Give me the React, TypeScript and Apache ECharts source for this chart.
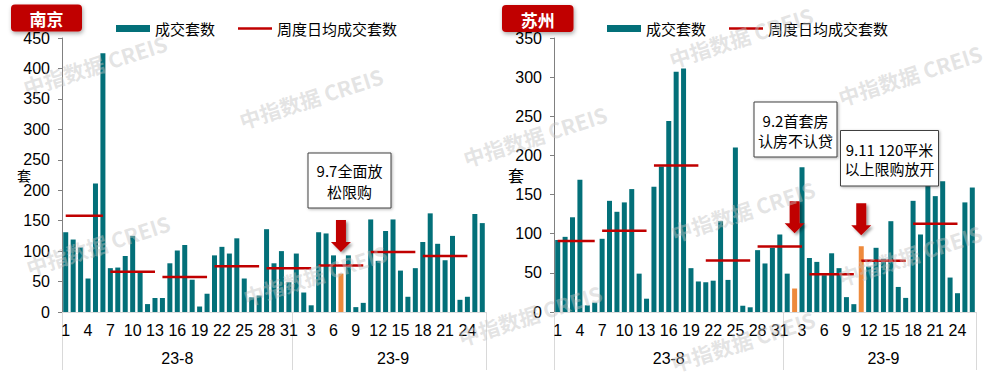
import React, { useEffect, useRef } from 'react';
import * as echarts from 'echarts';

// ---------- data ----------
const augDays = ['1','2','3','4','5','6','7','8','9','10','11','12','13','14','15','16','17','18','19','20','21','22','23','24','25','26','27','28','29','30','31'];
const sepDays = ['1','2','3','4','5','6','7','8','9','10','11','12','13','14','15','16','17','18','19','20','21','22','23','24','25','26'];
const monthLabels = ['23-8', '23-9'];

const njAug = [131,119,106,55,211,425,72,73,92,125,65,13,23,23,80,101,110,53,9,30,93,107,96,121,55,24,27,136,80,100,49];
const njSep = [96,32,11,131,129,93,63,93,8,15,152,84,133,152,68,25,72,115,162,112,85,125,20,25,161,146];
const szAug = [92,96,121,169,8.5,12,93.5,142,128,140,157,49,17,160,186,244,307,311,56,39,38,40,116,41,210,8,6,79,62,82,99];
const szSep = [49,30,185,69,64,47,75,56,19,10,84,58,82,68,116,32,18,142,99,161.5,148,167,44,24,140,159];

const weekStart = [0, 6, 13, 20, 27, 34, 41, 48];
const weekEnd = [5, 12, 19, 26, 33, 40, 47, 54];
const njWeekAvg = [158, 66, 57.5, 75, 72, 76.5, 98.5, 92];
const szWeekAvg = [90.6, 103.8, 187, 65.8, 83.8, 48.3, 65.4, 112.8];

const njHighlight = [37];
const szHighlight = [32, 41];
const njArrows = [[37, 125]];
const szArrows = [[32, 121], [41, 118.5]];

const njTitle = '南京';
const szTitle = '苏州';
const njNote = ['9.7全面放', '松限购'];
const szNote1 = ['9.2首套房', '认房不认贷'];
const szNote2 = ['9.11 120平米', '以上限购放开'];
const barName = '成交套数';
const lineName = '周度日均成交套数';
const unitName = '套';
const watermark = '中指数据 CREIS';

// ---------- styles ----------
const TEAL = '#037079';
const ORANGE = '#EE8A3C';
const RED = '#C00000';
const NUM_FONT = '"Liberation Sans", Arial, sans-serif';
const CJK_FONT = '"Noto Sans CJK SC", "Noto Sans", sans-serif';
const ARROW = 'path://M5,0 L15,0 L15,22 L20,22 L10,32 L0,22 L5,22 Z';
const LINE_ICON = 'path://M0,0 L36,0 L36,2.5 L0,2.5 Z';

const categories = augDays.concat(sepDays);
const groupSizes = [augDays.length, sepDays.length];

function weekLine(avgs: number[], parity: number) {
  const arr: (number | null)[] = categories.map(() => null);
  avgs.forEach((v, w) => {
    if (w % 2 === parity) {
      for (let i = weekStart[w]; i <= weekEnd[w]; i++) arr[i] = v;
    }
  });
  return arr;
}

function barData(vals: number[], hi: number[]) {
  return vals.map((v, i) => (hi.includes(i) ? { value: v, itemStyle: { color: ORANGE } } : v));
}

function xAxes(g: number) {
  const mid0 = Math.floor(groupSizes[0] / 2);
  const mid1 = groupSizes[0] + Math.floor(groupSizes[1] / 2);
  return [
    {
      type: 'category', gridIndex: g, data: categories, position: 'bottom',
      axisLine: { show: true, lineStyle: { color: '#d9d9d9', width: 1 } },
      axisTick: { show: false },
      axisLabel: { interval: 2, fontSize: 16, color: '#000', margin: 10, fontFamily: NUM_FONT },
    },
    {
      type: 'category', gridIndex: g, data: categories, position: 'bottom',
      axisLine: { show: false },
      axisTick: {
        show: true, length: 58,
        interval: (i: number) => i === 0 || i === groupSizes[0],
        lineStyle: { color: '#d9d9d9', width: 1 },
      },
      axisLabel: {
        interval: (i: number) => i === mid0 || i === mid1,
        formatter: (_v: string, i: number) => (i < groupSizes[0] ? monthLabels[0] : monthLabels[1]),
        fontSize: 16, color: '#000', margin: 38, fontFamily: NUM_FONT,
      },
    },
  ];
}

function yAxis(g: number, max: number, nameSize: number, nameGap: number) {
  return {
    type: 'value', gridIndex: g, min: 0, max, interval: 50,
    name: unitName, nameLocation: 'middle', nameGap, nameRotate: 0, nameMoveOverlap: false,
    nameTextStyle: { fontSize: nameSize, color: '#000', fontFamily: CJK_FONT },
    axisLine: { show: true, lineStyle: { color: '#808080', width: 1 } },
    axisTick: { show: true, length: 4, lineStyle: { color: '#808080' } },
    axisLabel: { fontSize: 16, color: '#000', margin: 12, fontFamily: NUM_FONT },
    splitLine: { show: false },
  };
}

function panelSeries(xIdx: number, yIdx: number, vals: number[], hi: number[], arrows: number[][], weeks: number[]) {
  const lineCommon = {
    type: 'line', name: lineName, xAxisIndex: xIdx, yAxisIndex: yIdx,
    symbol: 'none', connectNulls: false, z: 5,
    lineStyle: { color: RED, width: 2.5 }, itemStyle: { color: RED },
  };
  return [
    {
      type: 'bar', name: barName, xAxisIndex: xIdx, yAxisIndex: yIdx,
      data: barData(vals, hi), barWidth: 5,
      itemStyle: { color: TEAL },
      markPoint: {
        symbol: ARROW, symbolSize: [20, 32], symbolKeepAspect: false,
        label: { show: false },
        itemStyle: { color: RED, shadowBlur: 3, shadowColor: 'rgba(0,0,0,0.4)', shadowOffsetX: 2, shadowOffsetY: 2 },
        data: arrows.map((a) => ({ coord: [a[0], a[1]] })),
      },
    },
    { ...lineCommon, data: weekLine(weeks, 0) },
    { ...lineCommon, data: weekLine(weeks, 1) },
  ];
}

function badge(x: number, y: number, w: number, h: number, text: string) {
  return [
    {
      type: 'rect', shape: { x, y, width: w, height: h, r: 4 },
      style: { fill: RED, shadowBlur: 4, shadowColor: 'rgba(0,0,0,0.35)', shadowOffsetX: 1, shadowOffsetY: 2 },
      z: 100,
    },
    {
      type: 'text', x: x + w / 2, y: y + h / 2 + 0.5, z: 101,
      style: { text, fill: '#fff', font: `bold 17px ${CJK_FONT}`, align: 'center', verticalAlign: 'middle' },
    },
  ];
}

function noteBox(x: number, y: number, w: number, h: number, lines: string[], ly: number[]) {
  const els: any[] = [
    {
      type: 'rect', shape: { x, y, width: w, height: h },
      style: { fill: '#fff', stroke: '#404040', lineWidth: 1, shadowBlur: 3, shadowColor: 'rgba(0,0,0,0.3)', shadowOffsetX: 1, shadowOffsetY: 1 },
      z: 100,
    },
  ];
  lines.forEach((t, i) => {
    els.push({
      type: 'text', x: x + w / 2, y: ly[i], z: 101,
      style: { text: t, fill: '#000', font: `15px ${CJK_FONT}`, align: 'center', verticalAlign: 'middle' },
    });
  });
  return els;
}

const wmCenters = [
  [95, 65], [311, 98], [98, 245], [315, 275], [535, 136], [530, 315],
  [741, 37], [743, 211], [743, 341], [910, 75], [910, 255],
];

function watermarks() {
  return wmCenters.map((c) => ({
    type: 'text', x: c[0], y: c[1], rotation: 0.31, z: 50, silent: true,
    style: {
      text: watermark, fill: 'rgba(195,195,195,0.45)', font: `bold 21px ${CJK_FONT}`,
      align: 'center', verticalAlign: 'middle',
    },
  }));
}

function legend(left: number) {
  return {
    left, top: 21, padding: 0, itemWidth: 34, itemHeight: 7, itemGap: 23,
    textStyle: { fontSize: 15, color: '#000', fontFamily: CJK_FONT },
    data: [{ name: barName, icon: 'rect' }, { name: lineName, icon: LINE_ICON }],
  };
}

const option: any = {
  animation: false,
  backgroundColor: '#fff',
  grid: [
    { left: 62, top: 38, width: 424, height: 274 },
    { left: 554, top: 38, width: 422, height: 274 },
  ],
  legend: [legend(116), legend(607)],
  xAxis: [...xAxes(0), ...xAxes(1)],
  yAxis: [yAxis(0, 450, 14, 31), yAxis(1, 350, 16, 30)],
  series: [
    ...panelSeries(0, 0, njAug.concat(njSep), njHighlight, njArrows, njWeekAvg),
    ...panelSeries(2, 1, szAug.concat(szSep), szHighlight, szArrows, szWeekAvg),
  ],
  graphic: {
    elements: [
      ...watermarks(),
      ...badge(11, 4.5, 71, 27, njTitle),
      ...badge(502, 5, 71.5, 27, szTitle),
      ...noteBox(308, 153, 83, 55, njNote, [170.5, 191.5]),
      ...noteBox(754, 102, 83, 55, szNote1, [120, 140]),
      ...noteBox(840.5, 130.5, 98, 55.5, szNote2, [149.5, 168.5]),
    ],
  },
};

export default function App() {
  const ref = useRef<HTMLDivElement>(null);
  useEffect(() => {
    if (!ref.current) return;
    const chart = echarts.init(ref.current, null, { renderer: 'svg' });
    chart.setOption(option);
    return () => chart.dispose();
  }, []);
  return (
    <div
      ref={ref}
      style={{ position: 'fixed', left: 0, top: 0, width: 988, height: 377, background: '#fff' }}
    />
  );
}
